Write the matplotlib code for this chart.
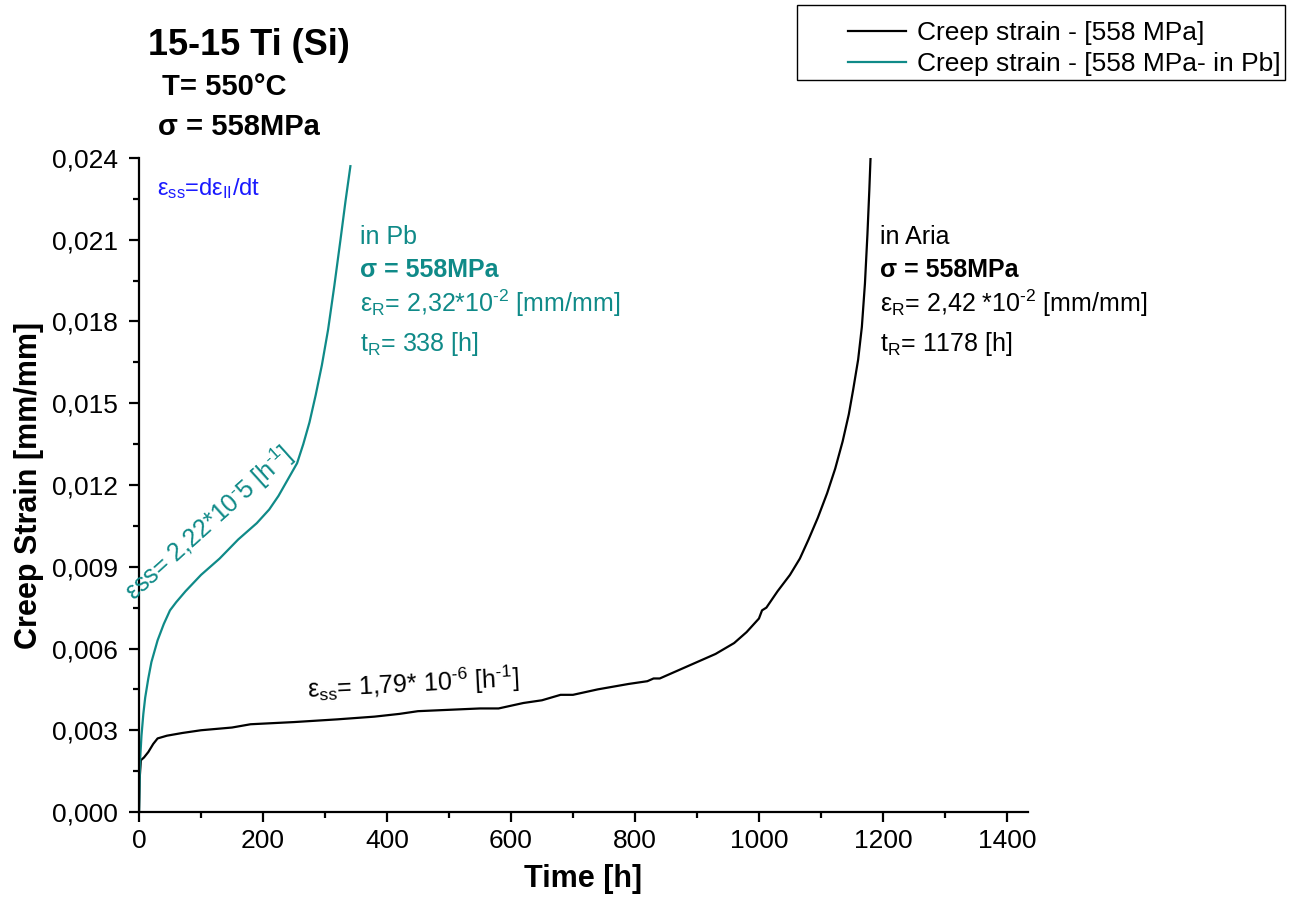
import matplotlib
matplotlib.use('Agg')
import matplotlib.pyplot as plt
from matplotlib.ticker import MultipleLocator, FuncFormatter
from matplotlib.patches import Rectangle
from matplotlib.lines import Line2D

plt.rcParams['font.family'] = ['Liberation Sans', 'DejaVu Sans']
plt.rcParams['mathtext.fontset'] = 'custom'
plt.rcParams['mathtext.rm'] = 'Liberation Sans'
plt.rcParams['mathtext.it'] = 'Liberation Sans:italic'
plt.rcParams['mathtext.bf'] = 'Liberation Sans:bold'
plt.rcParams['mathtext.default'] = 'regular'

# creep in air
t_air = [0, 1, 3, 8, 15, 23, 30, 45, 70, 100, 150, 180, 250, 320, 380, 420, 450,
         500, 550, 580, 600, 620, 650, 680, 700, 740, 790, 820, 830, 840, 870,
         900, 930, 960, 980, 1000, 1005, 1012, 1018, 1030, 1050, 1066, 1080,
         1095, 1110, 1123, 1135, 1145, 1152, 1160, 1166, 1171, 1175, 1178, 1180]
e_air = [0, 0.0012, 0.0019, 0.0020, 0.0022, 0.0025, 0.0027, 0.0028, 0.0029,
         0.0030, 0.0031, 0.00322, 0.0033, 0.0034, 0.0035, 0.0036, 0.0037,
         0.00375, 0.0038, 0.0038, 0.0039, 0.0040, 0.0041, 0.0043, 0.0043,
         0.0045, 0.0047, 0.0048, 0.0049, 0.0049, 0.0052, 0.0055, 0.0058,
         0.0062, 0.0066, 0.0071, 0.0074, 0.0075, 0.0077, 0.0081, 0.0087,
         0.0093, 0.0100, 0.0108, 0.0117, 0.0126, 0.0136, 0.0146, 0.0155,
         0.0166, 0.0178, 0.0194, 0.0212, 0.0228, 0.0240]

# creep in Pb
t_pb = [0, 1, 2, 4, 7, 10, 15, 20, 25, 30, 40, 50, 60, 75, 100, 130, 160, 190,
        210, 225, 240, 255, 265, 275, 285, 295, 305, 315, 325, 333, 341]
e_pb = [0, 0.0012, 0.0020, 0.0028, 0.0036, 0.0042, 0.0049, 0.0055, 0.0059,
        0.0063, 0.0069, 0.0074, 0.0077, 0.0081, 0.0087, 0.0093, 0.0100, 0.0106,
        0.0111, 0.0116, 0.0122, 0.0128, 0.0135, 0.0143, 0.0153, 0.0164, 0.0177,
        0.0193, 0.0210, 0.0224, 0.0237]

teal = '#0f8a88'

fig = plt.figure(figsize=(13.03, 8.99), dpi=100)
ax = fig.add_axes([139/1303, 87/899, 889/1303, 654/899])

ax.plot(t_air, e_air, color='black', lw=1.6)
ax.plot(t_pb, e_pb, color=teal, lw=1.6)

ax.set_xlim(0, 1434)
ax.set_ylim(0, 0.024)
ax.xaxis.set_major_locator(MultipleLocator(200))
ax.xaxis.set_minor_locator(MultipleLocator(100))
ax.yaxis.set_major_locator(MultipleLocator(0.003))
ax.yaxis.set_minor_locator(MultipleLocator(0.0015))
ax.yaxis.set_major_formatter(FuncFormatter(lambda v, p: ('%.3f' % v).replace('.', ',')))
ax.xaxis.set_major_formatter(FuncFormatter(lambda v, p: '%d' % v))
for s in ['top', 'right']:
    ax.spines[s].set_visible(False)
for s in ['left', 'bottom']:
    ax.spines[s].set_linewidth(1.6)
ax.tick_params(which='major', direction='out', length=7, width=1.6, labelsize=19, pad=5)
ax.tick_params(which='minor', direction='out', length=4, width=1.6)
ax.tick_params(axis='y', which='major', pad=8)

ax.set_xlabel('Time [h]', fontsize=22, fontweight='bold', labelpad=8)
ax.set_ylabel('Creep Strain [mm/mm]', fontsize=22, fontweight='bold', labelpad=6)

# titles
fig.text(148/1303, 1-55/899, '15-15 Ti (Si)', fontsize=26, fontweight='bold', va='baseline')
fig.text(162/1303, 1-95/899, 'T= 550°C', fontsize=21, fontweight='bold', va='baseline')
fig.text(158/1303, 1-135/899, 'σ = 558MPa', fontsize=21, fontweight='bold', va='baseline')

# annotations
ax.text(29, 0.02265, r'ε$_{ss}$=dε$_{II}$/dt', color='#1a1aff', fontsize=17, va='baseline')

ax.text(356, 0.02085, 'in Pb', color=teal, fontsize=18, va='baseline')
ax.text(356, 0.01965, 'σ = 558MPa', color=teal, fontsize=18, fontweight='bold', va='baseline')
ax.text(356, 0.01835, r'ε$_{R}$= 2,32*10$^{‐2}$ [mm/mm]', color=teal, fontsize=18, va='baseline')
ax.text(356, 0.0169, r't$_{R}$= 338 [h]', color=teal, fontsize=18, va='baseline')

ax.text(1195, 0.02085, 'in Aria', color='black', fontsize=18, va='baseline')
ax.text(1195, 0.01965, 'σ = 558MPa', color='black', fontsize=18, fontweight='bold', va='baseline')
ax.text(1195, 0.01835, r'ε$_{R}$= 2,42 *10$^{‐2}$ [mm/mm]', color='black', fontsize=18, va='baseline')
ax.text(1195, 0.0169, r't$_{R}$= 1178 [h]', color='black', fontsize=18, va='baseline')

ax.text(272, 0.0042, r'ε$_{ss}$= 1,79* 10$^{‐6}$ [h$^{‐1}$]', fontsize=18,
        rotation=3, rotation_mode='anchor', va='baseline')
ax.text(-8, 0.0077, r'εss= 2,22*10$^{‐}$5 [h$^{‐1}$]', color=teal, fontsize=18,
        rotation=42, rotation_mode='anchor', va='baseline', clip_on=False)

# legend
fig.patches.append(Rectangle((797/1303, 1-80/899), 488/1303, 75/899, transform=fig.transFigure,
                             fill=False, edgecolor='black', lw=1.0))
handles = [Line2D([], [], color='black', lw=1.6), Line2D([], [], color=teal, lw=1.6)]
fig.legend(handles, ['Creep strain - [558 MPa]', 'Creep strain - [558 MPa- in Pb]'],
           loc='upper left', bbox_to_anchor=(843/1303, 1-16/899), frameon=False,
           fontsize=19, handlelength=2.2, handletextpad=0.4, labelspacing=0.25,
           borderpad=0.2, borderaxespad=0)

fig.savefig('out.png', dpi=100)
